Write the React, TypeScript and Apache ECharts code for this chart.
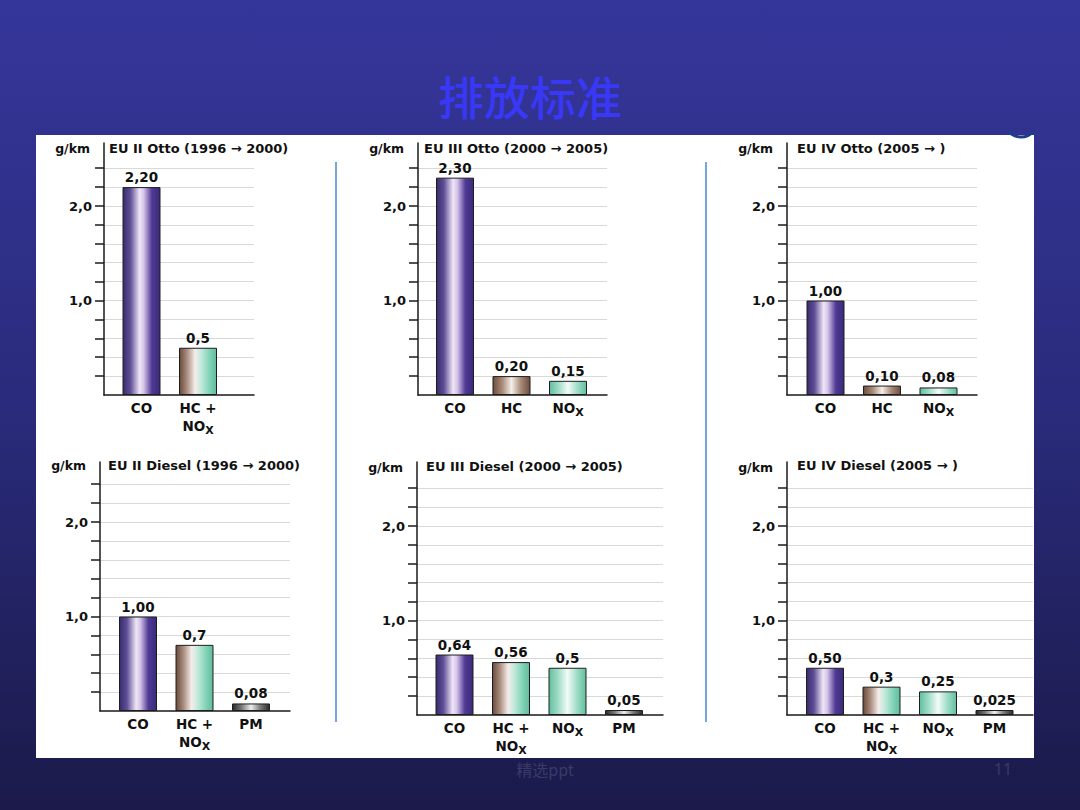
import React, { useEffect, useRef } from 'react';
import * as echarts from 'echarts';

// ---------- data ----------
const PAGE_TITLE = '排放标准';
const FOOTER_TEXT = '精选ppt';
const PAGE_NUMBER = '11';
const UNIT = 'g/km';

const TITLE_EU2_OTTO = 'EU II Otto (1996 → 2000)';
const CATS_EU2_OTTO = ['CO', 'HC+NOx'];
const VALUES_EU2_OTTO = [2.2, 0.5];
const LABELS_EU2_OTTO = ['2,20', '0,5'];

const TITLE_EU3_OTTO = 'EU III Otto (2000 → 2005)';
const CATS_EU3_OTTO = ['CO', 'HC', 'NOx'];
const VALUES_EU3_OTTO = [2.3, 0.2, 0.15];
const LABELS_EU3_OTTO = ['2,30', '0,20', '0,15'];

const TITLE_EU4_OTTO = 'EU IV Otto (2005 → )';
const CATS_EU4_OTTO = ['CO', 'HC', 'NOx'];
const VALUES_EU4_OTTO = [1.0, 0.1, 0.08];
const LABELS_EU4_OTTO = ['1,00', '0,10', '0,08'];

const TITLE_EU2_DIESEL = 'EU II Diesel (1996 → 2000)';
const CATS_EU2_DIESEL = ['CO', 'HC+NOx', 'PM'];
const VALUES_EU2_DIESEL = [1.0, 0.7, 0.08];
const LABELS_EU2_DIESEL = ['1,00', '0,7', '0,08'];

const TITLE_EU3_DIESEL = 'EU III Diesel (2000 → 2005)';
const CATS_EU3_DIESEL = ['CO', 'HC+NOx', 'NOx', 'PM'];
const VALUES_EU3_DIESEL = [0.64, 0.56, 0.5, 0.05];
const LABELS_EU3_DIESEL = ['0,64', '0,56', '0,5', '0,05'];

const TITLE_EU4_DIESEL = 'EU IV Diesel (2005 → )';
const CATS_EU4_DIESEL = ['CO', 'HC+NOx', 'NOx', 'PM'];
const VALUES_EU4_DIESEL = [0.5, 0.3, 0.25, 0.025];
const LABELS_EU4_DIESEL = ['0,50', '0,3', '0,25', '0,025'];

const Y_TICKS = [0.2, 0.4, 0.6, 0.8, 1.0, 1.2, 1.4, 1.6, 1.8, 2.0, 2.2, 2.4];
const Y_LABELS = [1.0, 2.0];

const CAT_TEXT: Record<string, string> = {
  CO: 'CO',
  'HC+NOx': 'HC +\nNO{sub|X}',
  HC: 'HC',
  NOx: 'NO{sub|X}',
  PM: 'PM',
};

// ---------- layout / style ----------
const PX_PER_UNIT = 94.5;
const PX_PER_CAT = 56.5;
const FONT = '"DejaVu Sans", sans-serif';

const LAYOUT = [
  { axisX: 104, y0: 395, top: 143, xEnd: 254, firstCenter: 141.5, titleX: 109, titleY: 148, unitY: 148 },
  { axisX: 418, y0: 395, top: 143, xEnd: 607, firstCenter: 455, titleX: 424, titleY: 148, unitY: 148 },
  { axisX: 787, y0: 395, top: 143, xEnd: 977, firstCenter: 825.5, titleX: 797, titleY: 148, unitY: 148 },
  { axisX: 100, y0: 711, top: 462, xEnd: 290, firstCenter: 138, titleX: 108, titleY: 465, unitY: 465 },
  { axisX: 417, y0: 715, top: 462, xEnd: 663, firstCenter: 454.5, titleX: 426, titleY: 466, unitY: 467 },
  { axisX: 787, y0: 715, top: 462, xEnd: 1033, firstCenter: 825, titleX: 797, titleY: 465, unitY: 467 },
];

const CHARTS = [
  { title: TITLE_EU2_OTTO, cats: CATS_EU2_OTTO, values: VALUES_EU2_OTTO, labels: LABELS_EU2_OTTO },
  { title: TITLE_EU3_OTTO, cats: CATS_EU3_OTTO, values: VALUES_EU3_OTTO, labels: LABELS_EU3_OTTO },
  { title: TITLE_EU4_OTTO, cats: CATS_EU4_OTTO, values: VALUES_EU4_OTTO, labels: LABELS_EU4_OTTO },
  { title: TITLE_EU2_DIESEL, cats: CATS_EU2_DIESEL, values: VALUES_EU2_DIESEL, labels: LABELS_EU2_DIESEL },
  { title: TITLE_EU3_DIESEL, cats: CATS_EU3_DIESEL, values: VALUES_EU3_DIESEL, labels: LABELS_EU3_DIESEL },
  { title: TITLE_EU4_DIESEL, cats: CATS_EU4_DIESEL, values: VALUES_EU4_DIESEL, labels: LABELS_EU4_DIESEL },
];

const GRADIENTS: Record<string, [number, string][]> = {
  CO: [[0, '#3a2a6c'], [0.2, '#5e4e96'], [0.45, '#efe6f6'], [0.56, '#d6c4ea'], [0.78, '#4f3a94'], [1, '#3a2a7a']],
  'HC+NOx': [[0, '#6a4a3a'], [0.2, '#a88c7e'], [0.42, '#f6ecea'], [0.58, '#c3eadc'], [0.82, '#7fd2b5'], [1, '#62bb9c']],
  HC: [[0, '#6e4e3e'], [0.25, '#a98b79'], [0.5, '#f6eee9'], [0.75, '#a98b79'], [1, '#6e4e3e']],
  NOx: [[0, '#62bf9f'], [0.25, '#a0ddc7'], [0.5, '#f3fbf8'], [0.75, '#a0ddc7'], [1, '#62bf9f']],
  PM: [[0, '#2a2a2a'], [0.25, '#7a7a7a'], [0.5, '#eeeeee'], [0.75, '#7a7a7a'], [1, '#2a2a2a']],
};

function grad(key: string) {
  return new echarts.graphic.LinearGradient(
    0, 0, 1, 0,
    GRADIENTS[key].map(([offset, color]) => ({ offset, color }))
  );
}

function buildOption() {
  const grid: any[] = [];
  const xAxis: any[] = [];
  const yAxis: any[] = [];
  const series: any[] = [];
  const texts: any[] = [];

  CHARTS.forEach((c, i) => {
    const L = LAYOUT[i];
    const width = L.xEnd - L.axisX;
    const height = L.y0 - L.top;
    const xMin = -(L.firstCenter - L.axisX) / PX_PER_CAT;
    const xMax = xMin + width / PX_PER_CAT;
    const cats = c.cats;

    grid.push({ left: L.axisX, top: L.top, width, height, containLabel: false, outerBoundsMode: 'none' });

    xAxis.push({
      type: 'value',
      gridIndex: i,
      min: xMin,
      max: xMax,
      axisLine: { show: true, onZero: false, lineStyle: { color: '#1a1a1a', width: 1.5 } },
      axisTick: { show: false },
      splitLine: { show: false },
      axisLabel: {
        show: true,
        customValues: cats.map((_, j) => j),
        formatter: (v: number) => CAT_TEXT[cats[Math.round(v)]] || '',
        margin: 4,
        fontFamily: FONT,
        fontWeight: 'bold',
        fontSize: 13.5,
        color: '#111',
        lineHeight: 18,
        rich: {
          sub: {
            fontFamily: FONT,
            fontWeight: 'bold',
            fontSize: 11,
            color: '#111',
            lineHeight: 10,
            padding: [8, 0, 0, 0],
          },
        },
      },
    });

    yAxis.push({
      type: 'value',
      gridIndex: i,
      min: 0,
      max: height / PX_PER_UNIT,
      axisLine: { show: true, onZero: false, lineStyle: { color: '#1a1a1a', width: 1.5 } },
      axisTick: {
        show: true,
        customValues: Y_TICKS,
        length: 9,
        lineStyle: { color: '#1a1a1a', width: 1.5 },
      },
      axisLabel: {
        show: true,
        customValues: Y_LABELS,
        formatter: (v: number) => v.toFixed(1).replace('.', ','),
        margin: 12,
        fontFamily: FONT,
        fontWeight: 'bold',
        fontSize: 13,
        color: '#111',
      },
      splitLine: { show: true, lineStyle: { color: '#d9d9d9', width: 1 } },
    });

    series.push({
      type: 'bar',
      xAxisIndex: i,
      yAxisIndex: i,
      barWidth: 38,
      barMinHeight: 5,
      data: c.values.map((v, j) => ({
        value: [j, v],
        itemStyle: { color: grad(cats[j]), borderColor: '#1e1e1e', borderWidth: 1 },
      })),
      label: {
        show: true,
        position: 'top',
        distance: 3,
        formatter: (p: any) => c.labels[p.dataIndex],
        fontFamily: FONT,
        fontWeight: 'bold',
        fontSize: 13.5,
        color: '#111',
      },
    });

    texts.push({
      type: 'text',
      x: L.titleX,
      y: L.titleY,
      z: 10,
      silent: true,
      style: {
        text: c.title,
        fontFamily: FONT,
        fontWeight: 'bold',
        fontSize: 13,
        fill: '#111',
        textAlign: 'left',
        align: 'left',
        textVerticalAlign: 'middle',
        verticalAlign: 'middle',
      },
    });
    texts.push({
      type: 'text',
      x: L.axisX - 14,
      y: L.unitY,
      z: 10,
      silent: true,
      style: {
        text: UNIT,
        fontFamily: FONT,
        fontWeight: 'bold',
        fontSize: 12.5,
        fill: '#111',
        textAlign: 'right',
        align: 'right',
        textVerticalAlign: 'middle',
        verticalAlign: 'middle',
      },
    });
  });

  const bg = new echarts.graphic.LinearGradient(0, 0, 0, 1, [
    { offset: 0, color: '#35369a' },
    { offset: 0.5, color: '#2a2b7c' },
    { offset: 1, color: '#1b1a4a' },
  ]);

  const graphic: any[] = [
    { type: 'rect', z: -10, silent: true, shape: { x: 0, y: 0, width: 1080, height: 810 }, style: { fill: bg } },
    {
      type: 'text', x: 545, y: 769, z: -7, silent: true,
      style: { text: FOOTER_TEXT, fontFamily: '"Noto Sans CJK SC", sans-serif', fontSize: 16, fill: '#3a3a66', textAlign: 'center', align: 'center', textVerticalAlign: 'middle', verticalAlign: 'middle' },
    },
    {
      type: 'text', x: 1003, y: 769, z: -7, silent: true,
      style: { text: PAGE_NUMBER, fontFamily: '"Noto Sans", sans-serif', fontSize: 16, fill: '#3a3a66', textAlign: 'center', align: 'center', textVerticalAlign: 'middle', verticalAlign: 'middle' },
    },
    { type: 'rect', z: -5, silent: true, shape: { x: 36, y: 135, width: 998, height: 623 }, style: { fill: '#ffffff' } },
    {
      type: 'arc', z: -4, silent: true,
      shape: { cx: 1021, cy: 121, r: 16, startAngle: Math.PI * 0.22, endAngle: Math.PI * 0.78 },
      style: { stroke: '#1f3c8e', lineWidth: 3, fill: 'none' },
    },
    { type: 'line', z: -3, silent: true, shape: { x1: 336, y1: 162, x2: 336, y2: 722 }, style: { stroke: '#74a6e4', lineWidth: 2 } },
    { type: 'line', z: -3, silent: true, shape: { x1: 706, y1: 162, x2: 706, y2: 722 }, style: { stroke: '#74a6e4', lineWidth: 2 } },
    {
      type: 'text', x: 530, y: 95, z: 10, silent: true,
      style: {
        text: PAGE_TITLE,
        fontFamily: '"Noto Sans CJK SC", sans-serif',
        fontWeight: 500,
        fontSize: 46,
        fill: '#3838f6',
        textAlign: 'center',
        align: 'center',
        textVerticalAlign: 'middle',
        verticalAlign: 'middle',
      },
    },
    ...texts,
  ];

  return {
    animation: false,
    backgroundColor: '#2a2b7c',
    grid,
    xAxis,
    yAxis,
    series,
    graphic,
  };
}

export default function App() {
  const ref = useRef<HTMLDivElement>(null);
  useEffect(() => {
    document.body.style.margin = '0';
    const chart = echarts.init(ref.current as HTMLDivElement, null, { renderer: 'svg', width: 1080, height: 810 });
    chart.setOption(buildOption() as any);
    return () => {
      chart.dispose();
    };
  }, []);
  return <div ref={ref} style={{ width: 1080, height: 810 }} />;
}
